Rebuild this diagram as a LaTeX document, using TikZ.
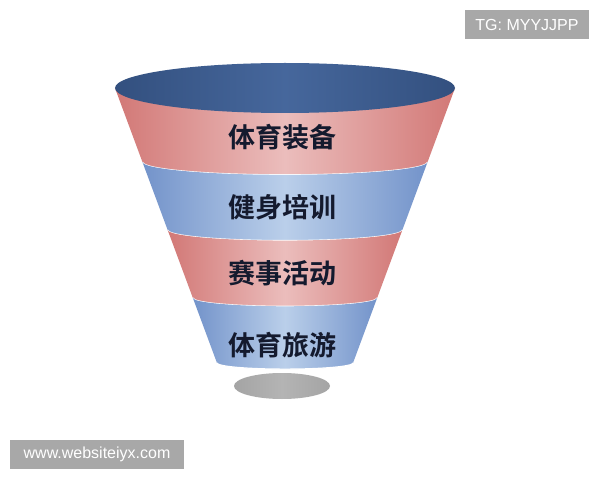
\documentclass[tikz,border=0pt]{standalone}
\usepackage{fontspec}
\setmainfont{Noto Sans CJK SC}[BoldFont={Noto Sans CJK SC Bold}]
\newfontfamily\markfont{Liberation Sans}

\definecolor{redD}{HTML}{D27876}
\definecolor{redL}{HTML}{EBBDBC}
\definecolor{blueD}{HTML}{7393CA}
\definecolor{blueL}{HTML}{BACFEA}
\definecolor{rimD}{HTML}{33507F}
\definecolor{rimL}{HTML}{46679C}
\definecolor{inkC}{HTML}{141A2E}
\definecolor{markC}{HTML}{A8A8A8}
\definecolor{shadeD}{HTML}{A4A4A4}
\definecolor{shadeL}{HTML}{B4B4B4}

\tikzset{
	label/.style={font=\bfseries\fontsize{27}{27}\selectfont, text=inkC},
	markbox/.style={fill=markC, text=white, inner sep=0pt, minimum height=29pt,
		font=\markfont\fontsize{16}{16}\selectfont}
}

\begin{document}
\begin{tikzpicture}[x=1pt, y=1pt]
	\useasboundingbox (0,0) rectangle (600,480);
	\fill[white] (0,0) rectangle (600,480);

	\newcommand*{\cx}{285}

	%shadow under the funnel
	\shade[left color=shadeD, right color=shadeD, middle color=shadeL]
		(282,94) ellipse [x radius=48, y radius=13];

	%funnel bands (top y / bottom y / colour)
	\foreach \yt/\yb/\bc in {392/318/red,318/250/blue,250/182/red,182/117/blue}{
	\pgfmathsetmacro{\rt}{68+0.371*(\yt-117)}
	\pgfmathsetmacro{\rb}{68+0.371*(\yb-117)}
	\shade[left color=\bc D, right color=\bc D, middle color=\bc L]
		(\cx-\rt,\yt) -- (\cx-\rb,\yb)
		arc[start angle=180, end angle=360, x radius=\rb, y radius=0.09*\rb]
		-- (\cx+\rt,\yt)
		arc[start angle=360, end angle=180, x radius=\rt, y radius=0.09*\rt] -- cycle;
	\draw[white, line width=1.2pt] (\cx-\rb,\yb)
		arc[start angle=180, end angle=360, x radius=\rb, y radius=0.09*\rb];}

	%top opening
	\shade[left color=rimD, right color=rimD, middle color=rimL]
		(\cx,392) ellipse [x radius=170, y radius=25];

	\node[label] (equip) at (282,343) {体育装备};
	\node[label] (train) at (282,273) {健身培训};
	\node[label] (event) at (282,207) {赛事活动};
	\node[label] (tour) at (282,135) {体育旅游};

	% watermarks
	\node[markbox, minimum width=124pt] (tg) at (527,455.5) {TG: MYYJJPP};
	\node[markbox, minimum width=174pt] (site) at (97,25.5) {www.websiteiyx.com};

\end{tikzpicture}
\end{document}
